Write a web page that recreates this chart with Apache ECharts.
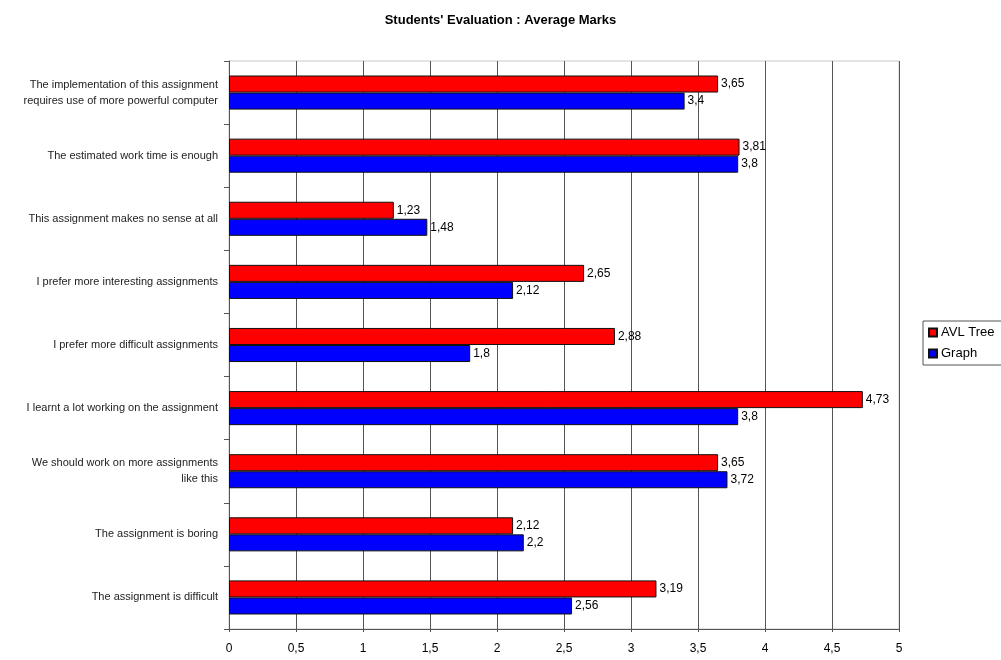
<!DOCTYPE html>
<html>
<head>
<meta charset="utf-8">
<script src="https://cdn.jsdelivr.net/npm/echarts@6/dist/echarts.min.js"></script>
<style>html,body{margin:0;padding:0;background:#fff}#c{width:1001px;height:660px}</style>
</head>
<body>
<div id="c"></div>
<script>
const categories = [
  "The assignment is difficult",
  "The assignment is boring",
  "We should work on more assignments\nlike this",
  "I learnt a lot working on the assignment",
  "I prefer more difficult assignments",
  "I prefer more interesting assignments",
  "This assignment makes no sense at all",
  "The estimated work time is enough",
  "The implementation of this assignment\nrequires use of more powerful computer"
];
const avlTree = [3.19, 2.12, 3.65, 4.73, 2.88, 2.65, 1.23, 3.81, 3.65];
const graph = [2.56, 2.2, 3.72, 3.8, 1.8, 2.12, 1.48, 3.8, 3.4];
const seriesNames = ["AVL Tree", "Graph"];

const fmt = v => String(v).replace('.', ',');
const font = 'Liberation Sans, Arial, sans-serif';

const chart = echarts.init(document.getElementById('c'));
chart.setOption({
  animation: false,
  textStyle: { fontFamily: font },
  title: {
    text: "Students' Evaluation : Average Marks",
    left: 'center', top: 9,
    textStyle: { fontSize: 13, fontWeight: 'bold', color: '#000', fontFamily: font }
  },
  legend: {
    orient: 'vertical',
    left: 923, top: 321,
    itemWidth: 8, itemHeight: 8, itemGap: 8,
    padding: [5, 8, 5, 5],
    borderColor: '#555', borderWidth: 1,
    icon: 'rect',
    textStyle: { fontSize: 13, color: '#000', fontFamily: font, padding: [0, 0, 0, -1] },
    data: seriesNames
  },
  grid: {
    left: 229, right: 102, top: 61, bottom: 31,
    show: true, borderColor: '#c8c8c8', borderWidth: 1
  },
  xAxis: {
    type: 'value', min: 0, max: 5, interval: 0.5,
    axisLine: { show: true, lineStyle: { color: '#555' } },
    axisTick: { show: true, length: 3, lineStyle: { color: '#555' } },
    axisLabel: { formatter: fmt, color: '#000', fontSize: 12, margin: 14, fontFamily: font },
    splitLine: { show: true, lineStyle: { color: '#555', width: 1 } }
  },
  yAxis: {
    type: 'category', data: categories,
    axisLine: { show: true, lineStyle: { color: '#555' } },
    axisTick: { show: true, length: 5, lineStyle: { color: '#555' } },
    axisLabel: { color: '#222', fontSize: 11, margin: 11, lineHeight: 16, fontFamily: font },
    splitLine: { show: false }
  },
  series: [
    {
      name: seriesNames[0], type: 'bar', data: avlTree,
      barGap: '0%', barCategoryGap: '46%',
      itemStyle: { color: '#ff0000', borderColor: '#111', borderWidth: 1 },
      label: { show: true, position: 'right', distance: 3, formatter: p => fmt(p.value), color: '#000', fontSize: 12, fontFamily: font }
    },
    {
      name: seriesNames[1], type: 'bar', data: graph,
      barGap: '0%', barCategoryGap: '46%',
      itemStyle: { color: '#0000ff', borderColor: '#111', borderWidth: 1 },
      label: { show: true, position: 'right', distance: 3, formatter: p => fmt(p.value), color: '#000', fontSize: 12, fontFamily: font }
    }
  ]
});
</script>
</body>
</html>
